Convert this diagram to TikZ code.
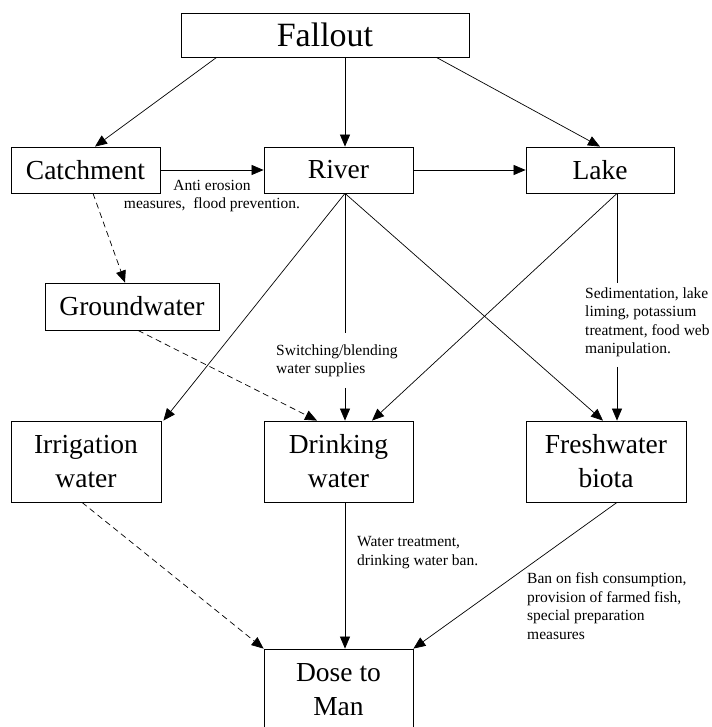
\documentclass[tikz,border=0pt]{standalone}
\usepackage{fontspec}
\setmainfont{Liberation Serif}
\usetikzlibrary{arrows.meta}
\begin{document}
\begin{tikzpicture}[x=1pt,y=-1pt,
  box/.style={draw, line width=0.8pt, inner sep=0pt, align=center, font=\fontsize{27.5}{34}\selectfont},
  lbl/.style={inner sep=0pt, align=left, font=\fontsize{15.5}{18.5}\selectfont},
  arr/.style={line width=0.7pt, -{Triangle[length=12pt,width=10pt]}},
  dsh/.style={arr, dash pattern=on 6pt off 4pt},
  seg/.style={line width=0.7pt}]
\clip (0,0) rectangle (711,727);
\fill[white] (0,0) rectangle (711,727);
% boxes
\node[box, minimum width=288pt, minimum height=44pt, font=\fontsize{34}{40}\selectfont] (fallout) at (325,35) {Fallout};
\node[box, minimum width=149pt, minimum height=46pt] (catch) at (85.5,170) {Catchment};
\node[box, minimum width=149pt, minimum height=46pt] (river) at (338.5,170) {River};
\node[box, minimum width=148pt, minimum height=46pt] (lake) at (600,170) {Lake};
\node[box, minimum width=174pt, minimum height=47pt] (ground) at (132,306.5) {Groundwater};
\node[box, minimum width=150pt, minimum height=81pt] (irr) at (86,461.5) {Irrigation\\water};
\node[box, minimum width=149pt, minimum height=81pt] (drink) at (338.5,461.5) {Drinking\\water};
\node[box, minimum width=160pt, minimum height=81pt] (fresh) at (606,461.5) {Freshwater\\biota};
\node[box, minimum width=149pt, minimum height=82pt] (dose) at (338.5,690) {Dose to\\Man};
% labels
\node[lbl, align=center, anchor=north] (anti) at (212,180) {Anti erosion\\measures,\ \ flood prevention.};
\node[lbl, anchor=north west] (switch) at (276,344.3) {Switching/blending\\water supplies};
\node[lbl, anchor=north west] (sed) at (585,287.4) {Sedimentation, lake\\liming, potassium\\treatment, food web\\manipulation.};
\node[lbl, anchor=north west] (treat) at (357,536.5) {Water treatment,\\drinking water ban.};
\node[lbl, anchor=north west] (ban) at (527,572.5) {Ban on fish consumption,\\provision of farmed fish,\\special preparation\\measures};
% connectors
\draw[arr] ([xshift=36pt]fallout.south west) -- ([xshift=9.5pt]catch.north);
\draw[arr] ([xshift=20pt]fallout.south) -- ([xshift=6.5pt]river.north);
\draw[arr] ([xshift=-33pt]fallout.south east) -- (lake.north);
\draw[arr] (catch.east) -- (river.west);
\draw[arr] (river.east) -- (lake.west);
\draw[dsh] ([xshift=7.5pt]catch.south) -- ([xshift=-7pt]ground.north);
\draw[arr] ([xshift=6.5pt]river.south) -- ([xshift=2pt]irr.north east);
\draw[seg] ([xshift=6.5pt]river.south) -- ([xshift=69pt,yshift=11pt]switch.north west);
\draw[arr] ([xshift=69pt,yshift=-10.5pt]switch.south west) -- ([xshift=6.5pt]drink.north);
\draw[arr] ([xshift=6.5pt]river.south) -- ([xshift=-3pt]fresh.north);
\draw[arr] ([xshift=17pt]lake.south) -- ([xshift=33.5pt]drink.north);
\draw[seg] ([xshift=17pt]lake.south) -- ([xshift=32pt,yshift=4.4pt]sed.north west);
\draw[arr] ([xshift=32pt,yshift=-9.6pt]sed.south west) -- ([xshift=11pt]fresh.north);
\draw[dsh] ([xshift=6pt]ground.south) -- ([xshift=-21.5pt]drink.north);
\draw[dsh] ([xshift=-4pt]irr.south) -- (dose.north west);
\draw[arr] ([xshift=6.5pt]drink.south) -- ([xshift=6.5pt]dose.north);
\draw[arr] ([xshift=11pt]fresh.south) -- (dose.north east);
\end{tikzpicture}
\end{document}
